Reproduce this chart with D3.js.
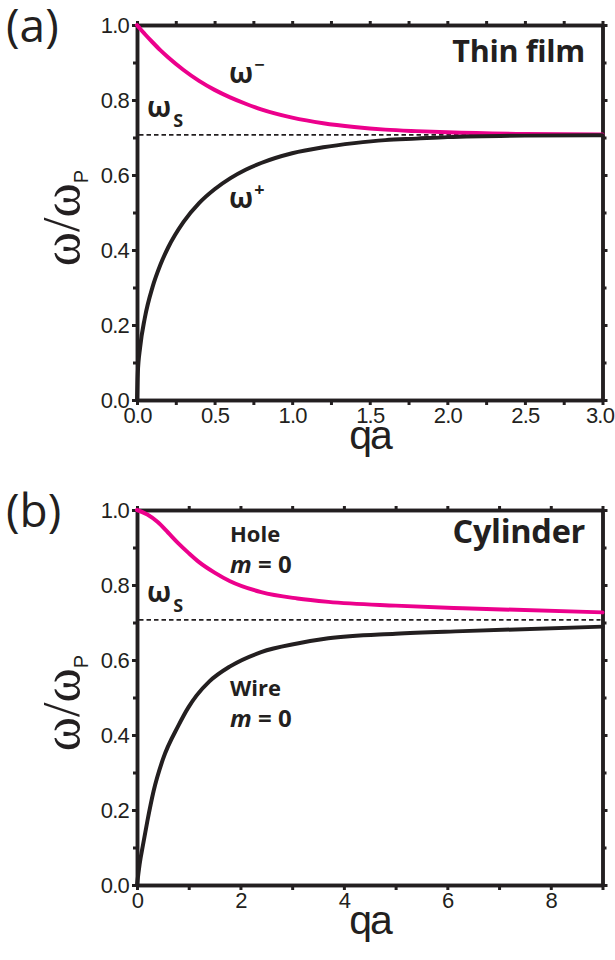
<!DOCTYPE html>
<html><head><meta charset="utf-8">
<script src="https://cdn.jsdelivr.net/npm/d3@7"></script>
<style>body{margin:0;background:#fff}svg{display:block}</style>
</head><body>
<script>
// ---- data ----
const thinQa    = [0, 0.005, 0.02, 0.05, 0.1, 0.15, 0.2, 0.3, 0.4, 0.5, 0.6, 0.7, 0.8, 1.0, 1.2, 1.4, 1.6, 1.8, 2.0, 2.5, 3.0];
const thinMinus = [1, 0.9975, 0.990, 0.976, 0.954, 0.933, 0.914, 0.880, 0.851, 0.827, 0.807, 0.790, 0.775, 0.753, 0.738, 0.728, 0.721, 0.717, 0.714, 0.7095, 0.708];
const thinPlus  = [0, 0.0705, 0.140, 0.218, 0.301, 0.360, 0.406, 0.475, 0.525, 0.562, 0.591, 0.614, 0.632, 0.658, 0.674, 0.685, 0.693, 0.697, 0.701, 0.705, 0.706];
const holeQa = [0, 0.2, 0.4, 0.6, 0.8, 1.0, 1.2, 1.5, 1.8, 2.4, 3.1, 3.7, 5, 6.3, 9];
const holeW  = [1.0, 0.988, 0.968, 0.94, 0.911, 0.885, 0.861, 0.833, 0.810, 0.781, 0.764, 0.755, 0.745, 0.738, 0.727];
const wireQa = [0, 0.05, 0.12, 0.2, 0.32, 0.5, 0.8, 1.0, 1.15, 1.4, 1.8, 2.4, 3.1, 3.7, 5, 6.3, 9];
const wireW  = [0, 0.055, 0.11, 0.17, 0.25, 0.335, 0.425, 0.475, 0.505, 0.543, 0.583, 0.621, 0.644, 0.658, 0.67, 0.677, 0.689];
const omegaS = 0.707;
const yTicks = [0, 0.2, 0.4, 0.6, 0.8, 1.0];
const yMinor = [0.1, 0.3, 0.5, 0.7, 0.9];
const topXTicks = [0, 0.5, 1.0, 1.5, 2.0, 2.5, 3.0];
const topXMinor = [0.25, 0.75, 1.25, 1.75, 2.25, 2.75];
const botXTicks = [0, 2, 4, 6, 8];
const botXMinor = [1, 3, 5, 7, 9];

const MAG = "#ec008c", BLK = "#231f20";
const svg = d3.select("body").append("svg").attr("width", 615).attr("height", 960);

function panel(o) {
  const x = d3.scaleLinear().domain(o.xDomain).range([137, 602.5]);
  const y = d3.scaleLinear().domain([0, 1]).range([o.y0, o.y0 - 375]);
  const g = svg.append("g");
  const axStyle = sel => {
    sel.select(".domain").attr("stroke", BLK).attr("stroke-width", 3.5);
    sel.selectAll(".tick line").attr("stroke", BLK).attr("stroke-width", 3);
    sel.selectAll("text").attr("font-family", "Liberation Sans, Arial, sans-serif")
      .attr("font-size", 22).attr("fill", BLK).attr("letter-spacing", -0.8);
  };
  // minor ticks
  const minX = g.append("g").attr("transform", `translate(0,${o.y0})`)
    .call(d3.axisBottom(x).tickValues(o.xMinor).tickSize(5).tickSizeOuter(0).tickFormat(""));
  const minXt = g.append("g").attr("transform", `translate(0,${o.y0-375})`)
    .call(d3.axisTop(x).tickValues(o.xMinor).tickSize(4).tickSizeOuter(0).tickFormat(""));
  const minY = g.append("g").attr("transform", `translate(137,0)`)
    .call(d3.axisLeft(y).tickValues(yMinor).tickSize(4).tickSizeOuter(0).tickFormat(""));
  const minYr = g.append("g").attr("transform", `translate(602.5,0)`)
    .call(d3.axisRight(y).tickValues(yMinor).tickSize(4).tickSizeOuter(0).tickFormat(""));
  [minX, minXt, minY, minYr].forEach(axStyle);
  // major axes
  const ax = g.append("g").attr("transform", `translate(0,${o.y0})`)
    .call(d3.axisBottom(x).tickValues(o.xTicks).tickSize(5).tickSizeOuter(0).tickPadding(2).tickFormat(d3.format(o.xFmt)));
  const axT = g.append("g").attr("transform", `translate(0,${o.y0-375})`)
    .call(d3.axisTop(x).tickValues(o.xTicks).tickSize(4).tickSizeOuter(0).tickFormat(""));
  const ay = g.append("g").attr("transform", `translate(137,0)`)
    .call(d3.axisLeft(y).tickValues(yTicks).tickSize(5).tickSizeOuter(0).tickPadding(3).tickFormat(d3.format(".1f")));
  const ayR = g.append("g").attr("transform", `translate(602.5,0)`)
    .call(d3.axisRight(y).tickValues(yTicks).tickSize(5).tickSizeOuter(0).tickFormat(""));
  [ax, axT, ay, ayR].forEach(axStyle);
  ax.selectAll("text").attr("dy", "0.72em");
  ax.selectAll("text").filter(d => d === o.xDomain[1]).attr("dx", -3);
  ay.selectAll("text").attr("dy", "0.36em");

  // dashed omega_s
  g.append("line").attr("x1", x(o.xDomain[0]) + 2).attr("x2", x(o.xDomain[1]) - 2)
    .attr("y1", y(omegaS)).attr("y2", y(omegaS))
    .attr("stroke", BLK).attr("stroke-width", 1.6).attr("stroke-dasharray", "4.5,3");

  const line = d3.line().x(d => x(d[0])).y(d => y(d[1])).curve(d3.curveMonotoneX);
  o.curves.forEach(c => {
    g.append("path").datum(d3.zip(c.qa, c.w)).attr("d", line)
      .attr("fill", "none").attr("stroke", c.color).attr("stroke-width", 4)
      .attr("stroke-linecap", "round");
  });

  // axis titles
  g.append("text").attr("x", 370).attr("y", o.y0 + 49).attr("text-anchor", "middle")
    .attr("font-family", "Liberation Sans, Arial, sans-serif").attr("font-size", 41)
    .attr("fill", BLK).attr("letter-spacing", -2).text("qa");
  const yt = g.append("text").attr("transform", `translate(79,${o.y0 - 182}) rotate(-90)`)
    .attr("text-anchor", "middle").attr("font-family", "Liberation Serif, serif")
    .attr("font-size", 52).attr("fill", BLK);
  yt.append("tspan").text("ω/ω");
  yt.append("tspan").attr("font-family", "Liberation Sans, Arial, sans-serif")
    .attr("font-size", 20).attr("dy", 9).text("P");

  // panel letter
  g.append("text").attr("x", 6).attr("y", o.y0 - 358).attr("font-family", "Open Sans, sans-serif")
    .attr("font-size", 46).attr("fill", BLK).text(o.letter);

  // omega_s label
  const ws = g.append("text").attr("x", 147).attr("y", o.y0 - 283)
    .attr("font-family", "Open Sans, sans-serif").attr("font-weight", "bold")
    .attr("font-size", 28).attr("fill", BLK);
  ws.append("tspan").text("ω");
  ws.append("tspan").attr("font-size", 18).attr("dy", 10).attr("dx", 2).text("S");

  // title
  g.append("text").attr("x", 585).attr("y", o.titleY).attr("text-anchor", "end")
    .attr("font-family", "Open Sans, sans-serif").attr("font-weight", "bold")
    .attr("font-size", o.titleSize).attr("fill", BLK).attr("letter-spacing", -0.3).text(o.title);
  return g;
}

const gA = panel({xDomain: [0, 3], y0: 400, xTicks: topXTicks, xMinor: topXMinor, xFmt: ".1f",
  letter: "(a)", title: "Thin film", titleY: 62, titleSize: 30.5,
  curves: [{qa: thinQa, w: thinMinus, color: MAG}, {qa: thinQa, w: thinPlus, color: BLK}]});
const gB = panel({xDomain: [0, 9], y0: 885, xTicks: botXTicks, xMinor: botXMinor, xFmt: "d",
  letter: "(b)", title: "Cylinder", titleY: 543, titleSize: 32.5,
  curves: [{qa: holeQa, w: holeW, color: MAG}, {qa: wireQa, w: wireW, color: BLK}]});

function omegaLabel(g, xx, yy, sup) {
  const t = g.append("text").attr("x", xx).attr("y", yy).attr("font-family", "Open Sans, sans-serif")
    .attr("font-weight", "bold").attr("font-size", 28).attr("fill", BLK);
  t.append("tspan").text("ω");
  t.append("tspan").attr("font-size", 18).attr("dy", -12).attr("dx", 1).text(sup);
}
omegaLabel(gA, 229, 83, "−");
omegaLabel(gA, 229, 208, "+");

function caseLabel(g, xx, yy, word) {
  const font = "Open Sans, sans-serif";
  g.append("text").attr("x", xx).attr("y", yy).attr("font-family", font).attr("font-weight", "bold")
    .attr("font-size", 22).attr("fill", BLK).text(word);
  const t = g.append("text").attr("x", xx).attr("y", yy + 31).attr("font-family", font)
    .attr("font-weight", "bold").attr("font-size", 24).attr("fill", BLK);
  t.append("tspan").attr("font-style", "italic").text("m");
  t.append("tspan").text(" = 0");
}
caseLabel(gB, 230, 542, "Hole");
caseLabel(gB, 230, 696, "Wire");
</script>
</body></html>
